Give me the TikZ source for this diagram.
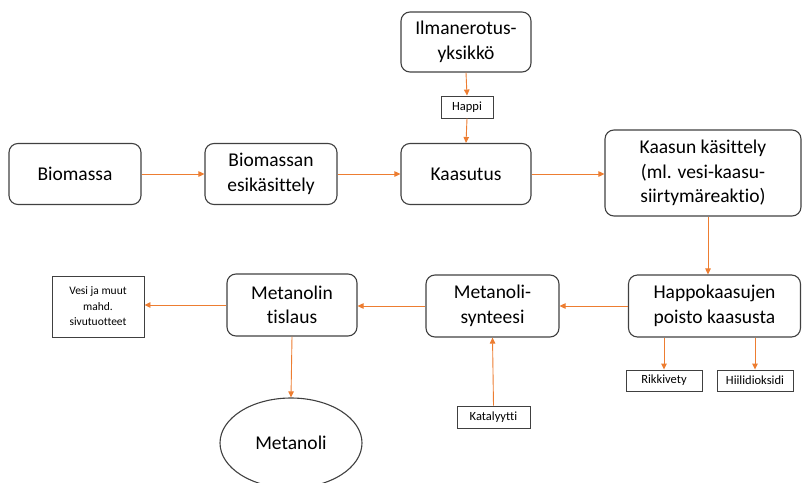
\documentclass[tikz,border=0pt]{standalone}
\usepackage{fontspec}
\setmainfont{Carlito}[Ligatures=NoCommon]
\usetikzlibrary{arrows.meta,shapes.geometric}
\definecolor{flow}{RGB}{237,125,49}
\definecolor{edge}{RGB}{64,64,64}
\tikzset{
  stage/.style={draw=edge, line width=1.1pt, rounded corners=9pt, align=center,
    font=\fontsize{19.5}{24.5}\selectfont, inner sep=0pt},
  tag/.style={draw=edge, line width=0.9pt, align=center,
    font=\fontsize{12.5}{15}\selectfont, inner sep=0pt},
  arr/.style={draw=flow, line width=0.9pt, -{Triangle[length=6pt,width=5.5pt]}}
}
\begin{document}
\begin{tikzpicture}[x=1pt,y=-1pt]
\useasboundingbox (0,0) rectangle (803,482);
% process stages
\node[stage, minimum width=130pt, minimum height=60pt] (ilma) at (466,42) {Ilmanerotus-\\yksikkö};
\node[stage, minimum width=132pt, minimum height=61pt] (bio) at (75,174) {Biomassa};
\node[stage, minimum width=132pt, minimum height=61pt] (esik) at (271,174) {Biomassan\\esikäsittely};
\node[stage, minimum width=130pt, minimum height=61pt] (kaas) at (466,174) {Kaasutus};
\node[stage, minimum width=196pt, minimum height=86pt] (kkas) at (703,173) {Kaasun käsittely\\(ml. vesi-kaasu-\\siirtymäreaktio)};
\node[stage, minimum width=172pt, minimum height=62pt] (happo) at (714.5,306) {Happokaasujen\\poisto kaasusta};
\node[stage, minimum width=133pt, minimum height=62pt] (synt) at (492.5,306) {Metanoli-\\synteesi};
\node[stage, minimum width=130pt, minimum height=62pt] (tisl) at (292,305) {Metanolin\\tislaus};
\node[draw=edge, line width=1.1pt, ellipse, minimum width=142pt, minimum height=90pt,
  font=\fontsize{19.5}{24.5}\selectfont, inner sep=0pt] (met) at (291,443) {Metanoli};
% material tags
\node[tag, minimum width=52pt, minimum height=22pt] (happi) at (467,107) {Happi};
\node[tag, minimum width=92pt, minimum height=61pt, font=\fontsize{11.5}{15.5}\selectfont] (vesi) at (98,306.5) {Vesi ja muut\\mahd.\\sivutuotteet};
\node[tag, minimum width=73pt, minimum height=22pt] (katal) at (493.5,417) {Katalyytti};
\node[tag, minimum width=76pt, minimum height=21pt] (rikki) at (664,380.5) {Rikkivety};
\node[tag, minimum width=76pt, minimum height=21pt] (hiili) at (755,380.5) {Hiilidioksidi};
% flows
\draw[arr] (ilma.south) -- (happi.north);
\draw[arr] (happi.south) -- (kaas.north);
\draw[arr] (bio.east) -- (esik.west);
\draw[arr] (esik.east) -- (kaas.west);
\draw[arr] (kaas.east) -- (kaas.east -| kkas.west);
\draw[arr] ([xshift=5pt]kkas.south) -- ([xshift=-6.5pt]happo.north);
\draw[arr] (happo.west) -- (synt.east);
\draw[arr] (synt.west) -- (synt.west -| tisl.east);
\draw[arr] (tisl.west) -- (tisl.west -| vesi.east);
\draw[arr] (tisl.south) -- (met.north);
\draw[arr] (katal.north) -- (synt.south);
\draw[arr] (happo.south -| rikki.north) -- (rikki.north);
\draw[arr] (happo.south -| hiili.north) -- (hiili.north);
\end{tikzpicture}
\end{document}
